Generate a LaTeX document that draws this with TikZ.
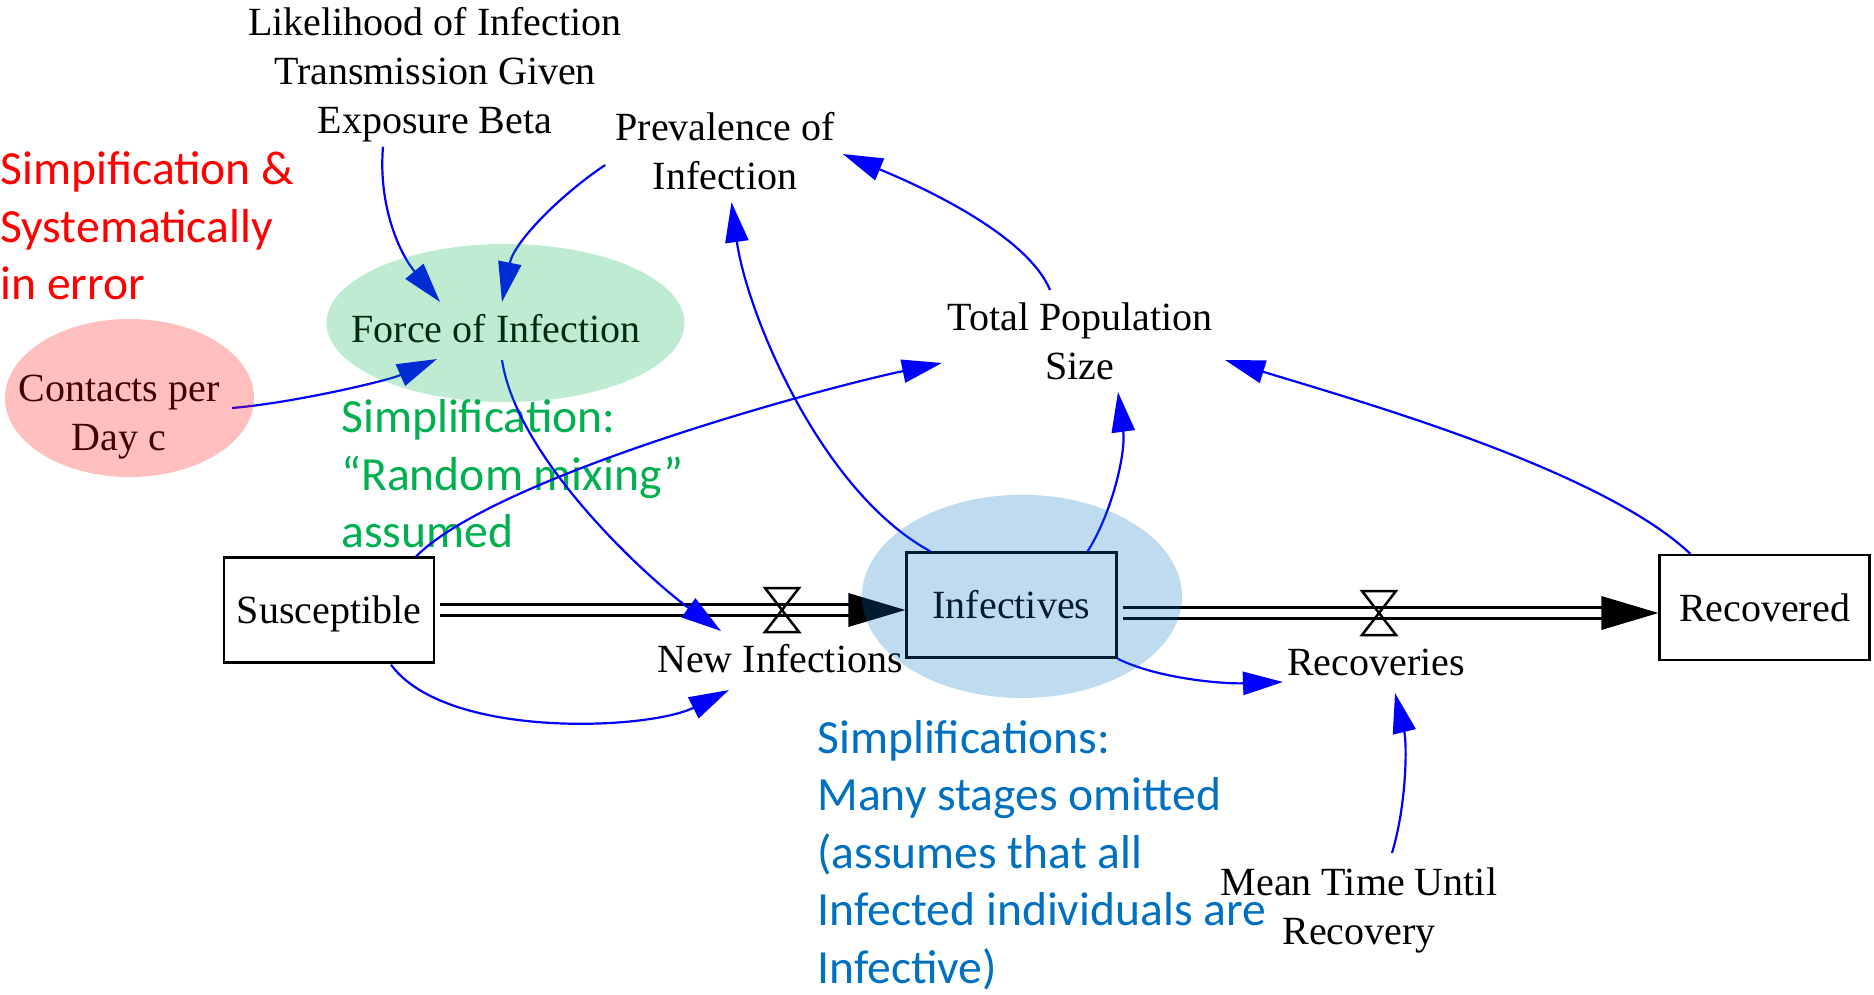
\documentclass[tikz,border=0pt]{standalone}
\usepackage{fontspec}
\setmainfont{Liberation Serif}
\newfontfamily\calfont{Carlito}
\usetikzlibrary{arrows.meta,calc}
\definecolor{lnk}{HTML}{0000FF}
\definecolor{grn}{HTML}{00B050}
\definecolor{blu}{HTML}{0070C0}
\definecolor{rd}{HTML}{FF0000}
\begin{document}
\begin{tikzpicture}[x=0.5pt,y=-0.5pt,
  lbl/.style={align=center, inner sep=0pt, font=\fontsize{20}{24.5}\selectfont},
  note/.style={align=left, inner sep=0pt, anchor=west, font=\calfont\fontsize{23.8}{28.7}\selectfont},
  stock/.style={draw, line width=1.2pt, fill=white, minimum width=105pt, minimum height=52.5pt, inner sep=0pt, text height=13.5pt, text depth=0pt, font=\fontsize{20}{24.5}\selectfont},
  link/.style={draw=lnk, line width=1.1pt, -{Triangle[length=20pt,width=11.6pt]}},
  pipe/.style={line width=1.35pt},
  valve/.style={line width=1.25pt},
  overlay/.style={fill opacity=0.25}]
\useasboundingbox (0,0) rectangle (1874,995);

% text nodes
\node[lbl] (lik) at (435,75) {Likelihood of Infection\\Transmission Given\\Exposure Beta};
\node[lbl] (prev) at (725,151) {Prevalence of\\Infection};
\node[lbl] (tot) at (1080,341) {Total Population\\Size};
\node[lbl] (mean) at (1359,910) {Mean Time Until\\Recovery};
\node[lbl] (force) at (496,329) {Force of Infection};
\node[lbl] (cont) at (119,417) {Contacts per\\Day c};
\node[lbl] (newinf) at (780,659) {New Infections};
\node[lbl] (recs) at (1376,662) {Recoveries};

\node[note, text=rd] (n1) at (0,226) {Simpification \&\\Systematically\\in error};
\node[note, text=grn] (n2) at (341,474) {Simplification:\\“Random mixing”\\assumed};
\node[note, text=blu] (n3) at (817,855) {Simplifications:\\Many stages omitted\\(assumes that all\\Infected individuals are\\Infective)};

% stocks
\node[stock] (sus) at (329,610) {Susceptible};
\node[stock] (inf) at (1011.5,605) {Infectives};
\node[stock] (rec) at (1764.5,607.5) {Recovered};

% flow 1
\coordinate (t1) at (inf.west |- sus.east);
\draw[pipe] ($(sus.east)+(5,-5.25)$) -- ($(t1)+(-56,-5.25)$)
            ($(sus.east)+(5,5.25)$) -- ($(t1)+(-56,5.25)$);
\fill ($(t1)+(-57,-17)$) -- (t1) -- ($(t1)+(-57,17)$) -- cycle;
\coordinate (v1) at (782,610);
\draw[valve] (v1) ++(-17,-22) -- ++(34,0) -- ++(-34,44) -- ++(34,0) -- cycle;

% flow 2
\coordinate (t2) at ($(rec.west |- sus.east)+(0,3)$);
\coordinate (s2) at ($(inf.east |- t2)+(5,0)$);
\draw[pipe] ($(s2)+(0,-5.25)$) -- ($(t2)+(-56,-5.25)$)
            ($(s2)+(0,5.25)$) -- ($(t2)+(-56,5.25)$);
\fill ($(t2)+(-57,-17)$) -- (t2) -- ($(t2)+(-57,17)$) -- cycle;
\coordinate (v2) at (1379,613);
\draw[valve] (v2) ++(-17,-22) -- ++(34,0) -- ++(-34,44) -- ++(34,0) -- cycle;

% links
\draw[link] ($(lik.south)+(-52,4)$) .. controls +(-5,60) and +(-40,-48) .. ($(force)+(-56,-27)$);
\draw[link] ($(prev.west)+(-10,14)$) .. controls +(-45,30) and +(12,-60) .. ($(force)+(6,-27)$);
\draw[link] ($(cont)+(113,-9)$) .. controls +(60,-5) and +(-50,22) .. ($(force)+(-59,30)$);
\draw[link] ($(force)+(6,31)$) .. controls +(15,100) and +(-70,-50) .. ($(newinf)+(-59,-28)$);
\draw[link] ($(sus.north east)+(-19,0)$) .. controls +(80,-80) and +(-120,25) .. ($(tot)+(-138,22)$);
\draw[link] ($(sus.south)+(62,1)$) .. controls +(55,75) and +(-80,40) .. ($(newinf)+(-51,31)$);
\draw[link] ($(inf.north west)+(25,0)$) .. controls +(-110,-60) and +(15,110) .. ($(prev.south)+(6.5,12)$);
\draw[link] ($(inf.north east)+(-30,0)$) .. controls +(25,-40) and +(8,60) .. ($(tot)+(38,51)$);
\draw[link] ($(tot)+(-30,-51)$) .. controls +(-25,-60) and +(60,25) .. ($(prev.east)+(8,3)$);
\draw[link] ($(rec.north west)+(32,0)$) .. controls +(-90,-85) and +(130,40) .. ($(tot)+(145,19)$);
\draw[link] (inf.south east) .. controls +(40,20) and +(-60,2) .. ($(recs)+(-93,20)$);
\draw[link] ($(mean)+(33,-57)$) .. controls +(15,-50) and +(12,50) .. ($(recs)+(19,31)$);

% translucent highlight ellipses
\fill[red, overlay] (129.5,398) ellipse [x radius=124.5, y radius=79];
\fill[grn, overlay] (505.5,323) ellipse [x radius=179, y radius=79];
\fill[blu, overlay] (1022,596.4) ellipse [x radius=160, y radius=101.6];
\end{tikzpicture}
\end{document}
